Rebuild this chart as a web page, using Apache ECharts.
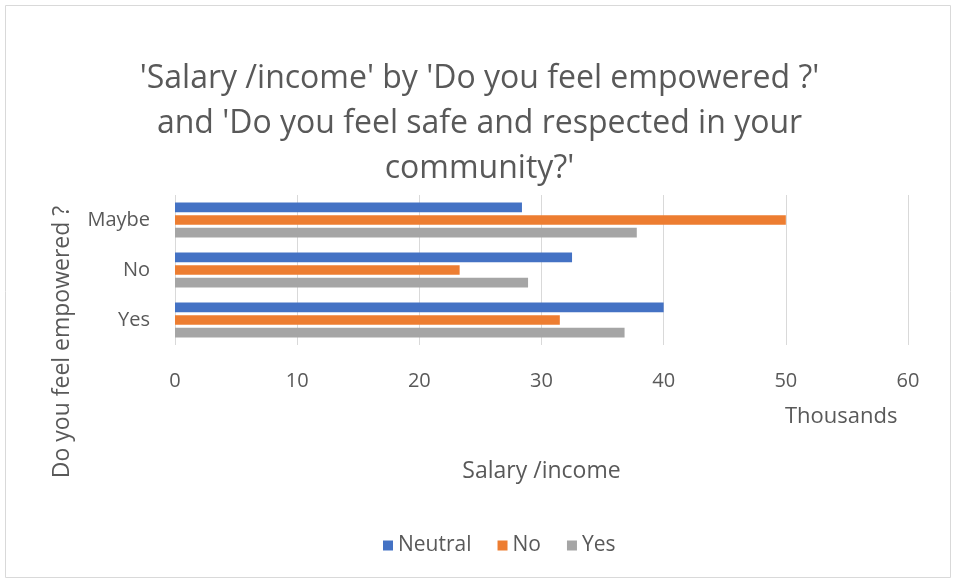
<!DOCTYPE html>
<html><head><meta charset="utf-8">
<script src="https://cdn.jsdelivr.net/npm/echarts@6/dist/echarts.min.js"></script>
<style>html,body{margin:0;padding:0;background:#fff}#c{width:959px;height:581px}</style>
</head><body><div id="c"></div>
<script>
const categories = ['Maybe', 'No', 'Yes'];
const seriesNames = ['Neutral', 'No', 'Yes'];
const neutralVals = [28.4, 32.5, 40.0];
const noVals = [50.0, 23.3, 31.5];
const yesVals = [37.8, 28.9, 36.8];
const xTicks = [0, 10, 20, 30, 40, 50, 60];
const colors = ['#4472C4', '#ED7D31', '#A5A5A5'];
const font = '"Open Sans", "Noto Sans", sans-serif';

const chart = echarts.init(document.getElementById('c'));
const dataSets = [neutralVals, noVals, yesVals];
chart.setOption({
  animation: false,
  color: colors,
  graphic: [
    { type: 'rect', shape: { x: 5.5, y: 5.5, width: 945, height: 572 }, style: { fill: 'none', stroke: '#D9D9D9', lineWidth: 1 } },
    { type: 'text', x: 785, y: 417, style: { text: 'Thousands', font: '22px ' + font, fill: '#595959', textVerticalAlign: 'middle' } },
    { type: 'text', x: 62, y: 342, rotation: Math.PI / 2, style: { text: 'Do you feel empowered ?', font: '23px ' + font, fill: '#595959', textAlign: 'center', textVerticalAlign: 'middle' } }
  ],
  title: {
    text: "'Salary /income' by 'Do you feel empowered ?'\nand 'Do you feel safe and respected in your\ncommunity?'",
    left: 'center', top: 51,
    textStyle: { fontFamily: font, fontSize: 32, fontWeight: 'normal', color: '#595959', lineHeight: 45 }
  },
  legend: {
    data: seriesNames, top: 530, left: 378, itemWidth: 10, itemHeight: 10, itemGap: 26,
    icon: 'rect', textStyle: { fontFamily: font, fontSize: 21, color: '#595959' }
  },
  grid: { left: 175, right: 51, top: 195, height: 150 },
  xAxis: {
    type: 'value', min: xTicks[0], max: xTicks[xTicks.length - 1], interval: 10,
    name: 'Salary /income', nameLocation: 'middle', nameGap: 115,
    nameTextStyle: { fontFamily: font, fontSize: 23, color: '#595959' },
    axisLabel: { fontFamily: font, fontSize: 20, color: '#595959', margin: 26 },
    splitLine: { lineStyle: { color: '#D9D9D9' } },
    axisLine: { show: false }, axisTick: { show: false }
  },
  yAxis: {
    type: 'category', data: categories, inverse: true,
    axisLabel: { fontFamily: font, fontSize: 20, color: '#595959', margin: 25 },
    axisLine: { show: false }, axisTick: { show: false }
  },
  series: seriesNames.map((n, i) => ({
    name: n, type: 'bar', data: dataSets[i], barGap: '30%', barCategoryGap: '30%'
  }))
});
</script></body></html>
